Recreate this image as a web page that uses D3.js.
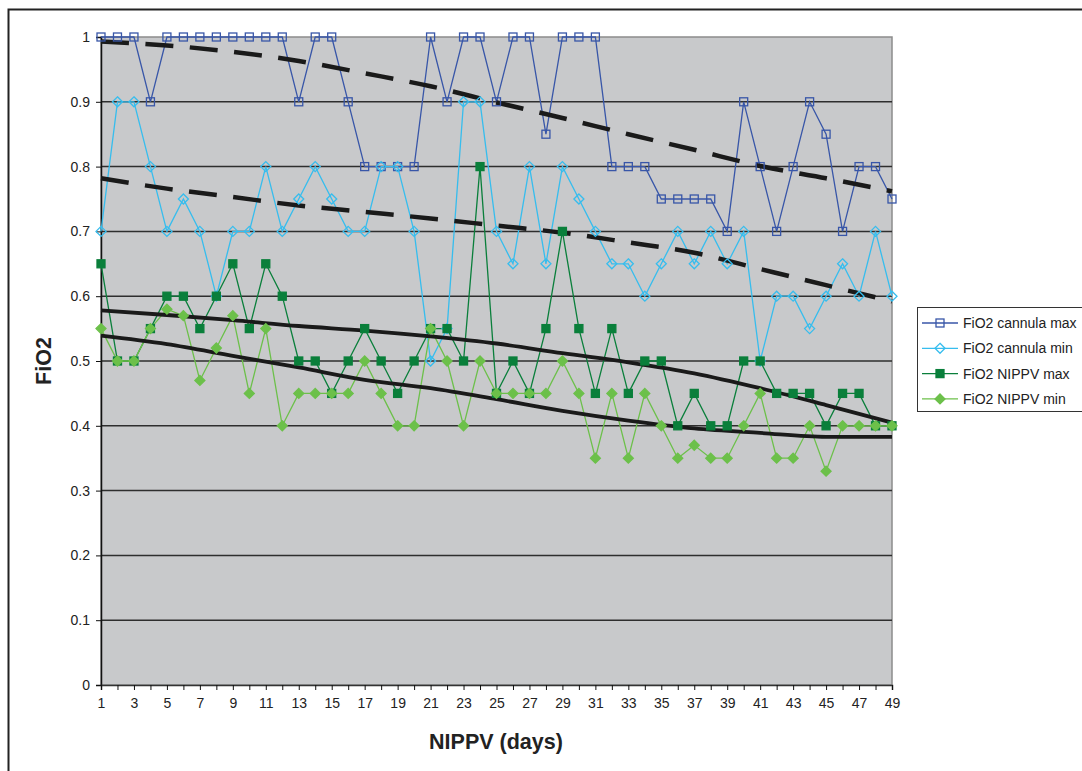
<!DOCTYPE html>
<html>
<head>
<meta charset="utf-8">
<script src="https://cdn.jsdelivr.net/npm/d3@7"></script>
<style>
  body { margin: 0; background: #fff; }
  text { font-family: "Liberation Sans", Arial, sans-serif; }
</style>
</head>
<body>
<div id="chart"></div>
<script>
// days on the x axis
const days = d3.range(1, 50);

// series values
const cannulaMax = [1, 1, 1, 0.9, 1, 1, 1, 1, 1, 1, 1, 1, 0.9, 1, 1, 0.9, 0.8, 0.8, 0.8, 0.8,
  1, 0.9, 1, 1, 0.9, 1, 1, 0.85, 1, 1, 1, 0.8, 0.8, 0.8, 0.75, 0.75, 0.75, 0.75, 0.7, 0.9,
  0.8, 0.7, 0.8, 0.9, 0.85, 0.7, 0.8, 0.8, 0.75];
const cannulaMin = [0.7, 0.9, 0.9, 0.8, 0.7, 0.75, 0.7, 0.6, 0.7, 0.7, 0.8, 0.7, 0.75, 0.8, 0.75, 0.7, 0.7, 0.8, 0.8, 0.7,
  0.5, 0.55, 0.9, 0.9, 0.7, 0.65, 0.8, 0.65, 0.8, 0.75, 0.7, 0.65, 0.65, 0.6, 0.65, 0.7, 0.65, 0.7, 0.65, 0.7,
  0.5, 0.6, 0.6, 0.55, 0.6, 0.65, 0.6, 0.7, 0.6];
const nippvMax = [0.65, 0.5, 0.5, 0.55, 0.6, 0.6, 0.55, 0.6, 0.65, 0.55, 0.65, 0.6, 0.5, 0.5, 0.45, 0.5, 0.55, 0.5, 0.45, 0.5,
  0.55, 0.55, 0.5, 0.8, 0.45, 0.5, 0.45, 0.55, 0.7, 0.55, 0.45, 0.55, 0.45, 0.5, 0.5, 0.4, 0.45, 0.4, 0.4, 0.5,
  0.5, 0.45, 0.45, 0.45, 0.4, 0.45, 0.45, 0.4, 0.4];
const nippvMin = [0.55, 0.5, 0.5, 0.55, 0.58, 0.57, 0.47, 0.52, 0.57, 0.45, 0.55, 0.4, 0.45, 0.45, 0.45, 0.45, 0.5, 0.45, 0.4, 0.4,
  0.55, 0.5, 0.4, 0.5, 0.45, 0.45, 0.45, 0.45, 0.5, 0.45, 0.35, 0.45, 0.35, 0.45, 0.4, 0.35, 0.37, 0.35, 0.35, 0.4,
  0.45, 0.35, 0.35, 0.4, 0.33, 0.4, 0.4, 0.4, 0.4];

const trendDays = [1, 5, 9, 13, 17, 21, 25, 29, 33, 37, 41, 45, 49];
const trendCannulaMax = [0.993, 0.987, 0.977, 0.963, 0.944, 0.924, 0.899, 0.875, 0.850, 0.826, 0.801, 0.782, 0.762];
const trendCannulaMin = [0.782, 0.766, 0.753, 0.740, 0.730, 0.720, 0.709, 0.698, 0.683, 0.667, 0.642, 0.617, 0.592];
const trendNippvMax = [0.578, 0.571, 0.563, 0.554, 0.547, 0.538, 0.527, 0.512, 0.498, 0.481, 0.458, 0.432, 0.405];
const trendNippvMin = [0.539, 0.526, 0.508, 0.490, 0.471, 0.458, 0.441, 0.423, 0.408, 0.396, 0.389, 0.383, 0.383];

const yTicks = d3.range(0, 11).map(i => i / 10);

const series = [
  { name: "FiO2 cannula max", values: cannulaMax, color: "#3856a8", shape: "square", filled: false },
  { name: "FiO2 cannula min", values: cannulaMin, color: "#36bdee", shape: "diamond", filled: false },
  { name: "FiO2 NIPPV max", values: nippvMax, color: "#0a7f3b", shape: "square", filled: true },
  { name: "FiO2 NIPPV min", values: nippvMin, color: "#6cc04a", shape: "diamond", filled: true }
];
const trends = [
  { values: trendCannulaMax, dashed: true },
  { values: trendCannulaMin, dashed: true },
  { values: trendNippvMax, dashed: false },
  { values: trendNippvMin, dashed: false }
];

const W = 1082, H = 771;
const plot = { left: 101, right: 892, top: 37, bottom: 685 };

const svg = d3.select("#chart").append("svg")
  .attr("width", W)
  .attr("height", H);

// outer chart border (cropped on right and bottom)
svg.append("path")
  .attr("d", `M8.5,${H + 5}V9.5H${W + 5}`)
  .attr("fill", "none")
  .attr("stroke", "#222")
  .attr("stroke-width", 2);

const x = d3.scalePoint().domain(days).range([plot.left, plot.right]);
const y = d3.scaleLinear().domain([0, 1]).range([plot.bottom, plot.top]);

// plot background
svg.append("rect")
  .attr("x", plot.left)
  .attr("y", plot.top)
  .attr("width", plot.right - plot.left)
  .attr("height", plot.bottom - plot.top)
  .attr("fill", "#c8c9cb")
  .attr("stroke", "#8c8c8c")
  .attr("stroke-width", 1.5);

// gridlines
svg.append("g")
  .selectAll("line")
  .data(yTicks.filter(d => d > 0 && d < 1))
  .join("line")
  .attr("x1", plot.left)
  .attr("x2", plot.right)
  .attr("y1", d => y(d))
  .attr("y2", d => y(d))
  .attr("stroke", "#2e2e2e")
  .attr("stroke-width", 1.5);

// y axis
const yAxis = svg.append("g")
  .attr("transform", `translate(${plot.left},0)`)
  .call(d3.axisLeft(y).tickValues(yTicks).tickSize(5).tickPadding(6).tickFormat(d => d === 0 || d === 1 ? d : d3.format(".1f")(d)));
yAxis.select(".domain").attr("stroke", "#111").attr("stroke-width", 1.5);
yAxis.selectAll(".tick line").attr("stroke", "#111");
yAxis.selectAll("text").attr("font-size", 14).attr("fill", "#222")
  .style("font-family", "'Liberation Sans', Arial, sans-serif");

// x axis
const xAxis = svg.append("g")
  .attr("transform", `translate(0,${plot.bottom})`)
  .call(d3.axisBottom(x).tickSize(5).tickPadding(8).tickFormat(d => d % 2 === 1 ? d : ""));
xAxis.select(".domain").attr("stroke", "#333").attr("stroke-width", 1.5);
xAxis.selectAll(".tick line").attr("stroke", "#111");
xAxis.selectAll("text").attr("font-size", 14).attr("fill", "#222")
  .style("font-family", "'Liberation Sans', Arial, sans-serif");

// axis titles
svg.append("text")
  .attr("x", 496)
  .attr("y", 749)
  .attr("text-anchor", "middle")
  .attr("font-size", 21.5)
  .attr("font-weight", "bold")
  .attr("fill", "#222")
  .text("NIPPV (days)");

svg.append("text")
  .attr("transform", "translate(51,361) rotate(-90)")
  .attr("text-anchor", "middle")
  .attr("font-size", 21.5)
  .attr("font-weight", "bold")
  .attr("fill", "#222")
  .text("FiO2");

const line = d3.line()
  .x((d, i) => x(days[i]))
  .y(d => y(d));

const trendLine = d3.line()
  .x((d, i) => x(trendDays[i]))
  .y(d => y(d))
  .curve(d3.curveMonotoneX);

// series lines
svg.append("g")
  .selectAll("path")
  .data(series)
  .join("path")
  .attr("d", d => line(d.values))
  .attr("fill", "none")
  .attr("stroke", d => d.color)
  .attr("stroke-width", 1.3);

// trend lines
svg.append("g")
  .selectAll("path")
  .data(trends)
  .join("path")
  .attr("d", d => trendLine(d.values))
  .attr("fill", "none")
  .attr("stroke", "#1a1a1a")
  .attr("stroke-width", d => d.dashed ? 4.5 : 3.8)
  .attr("stroke-dasharray", d => d.dashed ? "28,16.5" : null);

function marker(g, s) {
  if (s.shape === "square") {
    g.append("rect")
      .attr("x", -4).attr("y", -4)
      .attr("width", 8).attr("height", 8)
      .attr("fill", s.filled ? s.color : "none")
      .attr("stroke", s.color)
      .attr("stroke-width", 1.3);
  } else {
    g.append("path")
      .attr("d", "M0,-5L5,0L0,5L-5,0Z")
      .attr("fill", s.filled ? s.color : "none")
      .attr("stroke", s.color)
      .attr("stroke-width", 1.3);
  }
}

// markers
series.forEach(s => {
  svg.append("g")
    .selectAll("g")
    .data(s.values)
    .join("g")
    .attr("transform", (d, i) => `translate(${x(days[i])},${y(d)})`)
    .each(function () { marker(d3.select(this), s); });
});

// legend
const legend = svg.append("g").attr("transform", "translate(917,307)");
legend.append("rect")
  .attr("x", 0.5).attr("y", 0.5)
  .attr("width", 180).attr("height", 104)
  .attr("fill", "#fff")
  .attr("stroke", "#333")
  .attr("stroke-width", 1);

const item = legend.selectAll(".item")
  .data(series)
  .join("g")
  .attr("class", "item")
  .attr("transform", (d, i) => `translate(0,${16 + i * 25.3})`);
item.append("line")
  .attr("x1", 5).attr("x2", 41)
  .attr("stroke", d => d.color)
  .attr("stroke-width", 1.3);
item.each(function (d) {
  const g = d3.select(this).append("g").attr("transform", "translate(23,0)");
  marker(g, d);
});
item.append("text")
  .attr("x", 46)
  .attr("y", 5)
  .attr("font-size", 14)
  .attr("fill", "#222")
  .text(d => d.name);
</script>
</body>
</html>
